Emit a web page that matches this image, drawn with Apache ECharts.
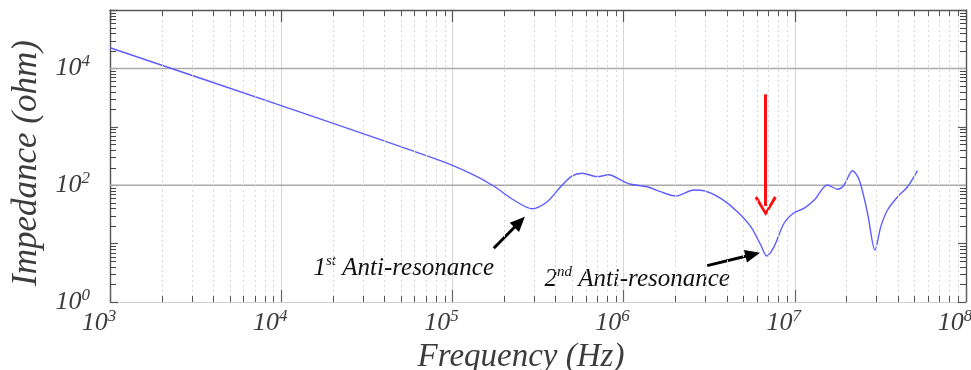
<!DOCTYPE html>
<html>
<head>
<meta charset="utf-8">
<script src="https://cdn.jsdelivr.net/npm/echarts@6/dist/echarts.min.js"></script>
<style>
  html, body { margin: 0; background: #fff; }
  #chart { width: 971px; height: 370px; }
</style>
</head>
<body>
<div id="chart"></div>
<script>
// impedance curve
const freqHz = [1e3, 1e4, 8.5e4, 1.33e5, 1.74e5, 2.28e5, 2.92e5, 3.58e5, 4.29e5, 5.01e5,
  5.73e5, 7.02e5, 8.2e5, 9.6e5, 1.1e6, 1.375e6, 1.64e6, 2.01e6, 2.58e6, 2.95e6,
  3.69e6, 4.62e6, 5.53e6, 6.33e6, 6.86e6, 7.57e6, 8.65e6, 9.9e6, 1.13e7, 1.3e7,
  1.55e7, 1.78e7, 1.94e7, 2.17e7, 2.38e7, 2.66e7, 2.94e7, 3.18e7, 3.48e7, 3.99e7,
  4.56e7, 5.21e7];
const impedanceOhm = [22600, 2300, 263, 150, 96.8, 55.8, 39.6, 52.2, 94.2, 144,
  160, 140, 151, 123, 104, 94.2, 77.4, 65.3, 82.8, 80.5,
  59.7, 35.2, 19.5, 9.46, 6.14, 8.85, 22.3, 33.8, 40.2, 55.8,
  101, 85.1, 101, 177, 123, 33.0, 7.77, 19.5, 37.6, 63.5,
  94.2, 177];

// axis ranges, decades and minor tick multipliers
const xRange = [1e3, 1e8];
const yRange = [1, 1e5];
const xDecades = [1e3, 1e4, 1e5, 1e6, 1e7];
const yDecades = [1, 10, 100, 1000, 10000];
const minorSteps = [2, 3, 4, 5, 6, 7, 8, 9];
const yGridValues = [100, 10000];

// annotations (data coordinates)
const blackArrowFrom = [[1.744e5, 8.31], [3.08e6, 4.19]];
const blackArrowTo = [[2.47e5, 23.4], [5.68e6, 6.5]];
const redArrowFrom = [6.76e6, 3600];
const redArrowTo = [6.76e6, 44];
const noteOrdinals = ["1", "2"];
const noteSuffixes = ["st", "nd"];
const noteText = "Anti-resonance";
const notePos = [[5.2e4, 3.82], [1.2e6, 2.48]];

const FONT = "'Liberation Serif', 'Times New Roman', serif";
const TXT = "#3c3c3c";

const xMinor = [];
xDecades.forEach(d => minorSteps.forEach(m => xMinor.push(d * m)));
const yMinor = [];
yDecades.forEach(d => minorSteps.forEach(m => yMinor.push(d * m)));

const chart = echarts.init(document.getElementById("chart"));

const expRich = {
  b: { fontFamily: FONT, fontStyle: "italic", fontSize: 26, color: TXT, lineHeight: 30 },
  e: { fontFamily: FONT, fontStyle: "italic", fontSize: 17, color: TXT, lineHeight: 18, verticalAlign: "top" },
  p: { width: 22 }
};

function expLabel(v) {
  return Math.round(Math.log10(v));
}

// crisp 1px line at pixel centre
const px = v => Math.round(v) + 0.5;

const option = {
  animation: false,
  grid: { left: 110, right: 5, top: 10, bottom: 68, containLabel: false, outerBoundsMode: "none" },
  xAxis: [
    {
      type: "log", logBase: 10, min: xRange[0], max: xRange[1],
      name: "Frequency (Hz)", nameLocation: "middle", nameGap: 34,
      nameTextStyle: { fontFamily: FONT, fontStyle: "italic", fontSize: 33, color: TXT, padding: [0, 34, 0, 0] },
      axisLine: { lineStyle: { color: "#cfcfcf", width: 1.2 } },
      axisTick: { inside: true, length: 12, lineStyle: { color: "#666", width: 1.2 } },
      axisLabel: {
        margin: 6,
        formatter: v => "{b|10}{e|" + expLabel(v) + "}{p|}",
        rich: expRich
      },
      splitLine: { show: true, lineStyle: { color: "#d6d6d6", width: 1 } }
    },
    {
      type: "log", logBase: 10, min: xRange[0], max: xRange[1], position: "top",
      axisLine: { lineStyle: { color: "#555", width: 1.4 } },
      axisTick: { inside: true, length: 12, lineStyle: { color: "#555", width: 1.2 } },
      axisLabel: { show: false },
      splitLine: { show: false }
    }
  ],
  yAxis: [
    {
      type: "log", logBase: 10, min: yRange[0], max: yRange[1],
      name: "Impedance (ohm)", nameLocation: "middle", nameGap: 64, nameRotate: 90,
      nameTextStyle: { fontFamily: FONT, fontStyle: "italic", fontSize: 35, color: TXT, padding: [0, 14, 0, 0] },
      axisLine: { show: true, lineStyle: { color: "#555", width: 1.4 } },
      axisTick: { show: true, inside: true, length: 8, lineStyle: { color: "#555", width: 1.2 } },
      axisLabel: {
        margin: 20,
        formatter: v => (expLabel(v) % 2 === 0 ? "{b|10}{e|" + expLabel(v) + "}" : ""),
        rich: expRich
      },
      splitLine: { show: false }
    },
    {
      type: "log", logBase: 10, min: yRange[0], max: yRange[1], position: "right",
      axisLine: { show: true, lineStyle: { color: "#555", width: 1.4 } },
      axisTick: { show: true, inside: true, length: 8, lineStyle: { color: "#555", width: 1.2 } },
      axisLabel: { show: false },
      splitLine: { show: false }
    }
  ],
  series: [
    {
      // minor log ticks: each item carries one x minor and one y minor value
      type: "custom", silent: true, z: 6, clip: false,
      data: xMinor.map((v, i) => [v, yMinor[i]]),
      encode: { x: 0, y: 1 },
      renderItem: (params, api) => {
        const rect = params.coordSys;
        const p = api.coord([api.value(0), api.value(1)]);
        const x = px(p[0]);
        const y = px(p[1]);
        const top = rect.y;
        const bottom = rect.y + rect.height;
        const left = rect.x;
        const right = rect.x + rect.width;
        return {
          type: "group",
          children: [
            { type: "line", shape: { x1: x, y1: bottom, x2: x, y2: top },
              style: { stroke: "#d8d8d8", lineWidth: 1, lineDash: [2, 3] } },
            { type: "line", shape: { x1: x, y1: bottom, x2: x, y2: bottom - 6 },
              style: { stroke: "#555", lineWidth: 1 } },
            { type: "line", shape: { x1: x, y1: top, x2: x, y2: top + 6 },
              style: { stroke: "#555", lineWidth: 1 } },
            { type: "line", shape: { x1: left, y1: y, x2: left + 6, y2: y },
              style: { stroke: "#444", lineWidth: 1 } },
            { type: "line", shape: { x1: right, y1: y, x2: right - 6, y2: y },
              style: { stroke: "#444", lineWidth: 1 } }
          ]
        };
      }
    },
    {
      // horizontal grid at 10^2 and 10^4
      type: "custom", silent: true, z: 2, clip: false,
      data: yGridValues.map(v => [xRange[0], v]),
      encode: { x: 0, y: 1 },
      renderItem: (params, api) => {
        const v = api.value(1);
        const l = api.coord([xRange[0], v]);
        const r = api.coord([xRange[1], v]);
        return { type: "line", shape: { x1: l[0], y1: l[1], x2: r[0], y2: r[1] },
          style: { stroke: "#aaaaaa", lineWidth: 1.5 } };
      }
    },
    {
      name: "Impedance",
      type: "line", z: 5,
      data: freqHz.map((f, i) => [f, impedanceOhm[i]]),
      smooth: 0.3,
      showSymbol: false,
      lineStyle: { color: "#5d5dff", width: 1.4 },
      markLine: {
        silent: true,
        symbol: ["none", "triangle"],
        symbolSize: [13, 15],
        label: { show: false },
        lineStyle: { color: "#000", width: 3, type: "solid" },
        data: [
          [{ coord: blackArrowFrom[0] }, { coord: blackArrowTo[0] }],
          [{ coord: blackArrowFrom[1] }, { coord: blackArrowTo[1] }],
          [
            { coord: redArrowFrom, lineStyle: { color: "#ff1010", width: 3 } },
            { coord: redArrowTo, symbol: "path://M11,0 L22,17.5 L19.5,19.5 L11,5 L2.5,19.5 L0,17.5 Z",
              symbolSize: [22, 20], itemStyle: { color: "#ff1010" } }
          ]
        ]
      },
      markPoint: {
        silent: true,
        symbol: "circle",
        symbolSize: 1,
        itemStyle: { color: "rgba(0,0,0,0)" },
        label: {
          show: true, position: "inside",
          rich: {
            n: { fontFamily: FONT, fontStyle: "italic", fontSize: 25, color: "#111", lineHeight: 28 },
            s: { fontFamily: FONT, fontStyle: "italic", fontSize: 15, color: "#111", lineHeight: 16, verticalAlign: "top" }
          }
        },
        data: notePos.map((c, i) => ({
          coord: c,
          label: { formatter: "{n|" + noteOrdinals[i] + "}{s|" + noteSuffixes[i] + "}{n| " + noteText + "}" }
        }))
      }
    }
  ]
};

chart.setOption(option);
</script>
</body>
</html>
